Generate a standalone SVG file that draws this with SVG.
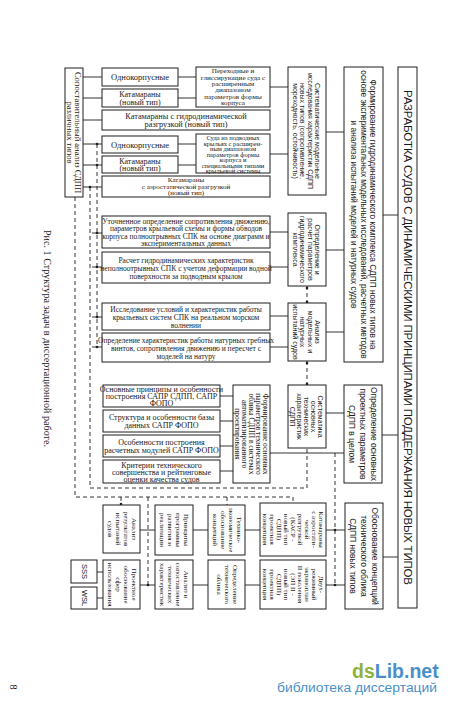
<svg xmlns="http://www.w3.org/2000/svg" width="450" height="708" viewBox="0 0 450 708">
<style>
.b{fill:#fff;stroke:#1e1e1e;stroke-width:1}
.c{stroke:#1e1e1e;stroke-width:0.9;fill:none}
.d{stroke:#1e1e1e;stroke-width:0.9;fill:none;stroke-dasharray:4 3}
.s{font-family:"Liberation Serif",serif;fill:#1a1a1a;text-anchor:middle;dominant-baseline:central}
.a{font-family:"Liberation Sans",sans-serif;fill:#1a1a1a;text-anchor:middle;dominant-baseline:central}
.dot{fill:#1e1e1e}
</style>
<rect width="450" height="708" fill="#fff"/>

<g id="connectors">
<path class="c" d="M383,215H398M382,435H398M383,557H398M326,132H344M326,250H344M326,332H344M326,413H344M270,453H344M326,530H345M326,585H345M245,530H260M245,585H260M193,530H208M193,585H208M140,530H155M140,585H155M97,572H103M97,598H103M220,396H233M220,421H233M220,446H233M220,471H233M270,232H288M270,267H288M270,316H288M270,347H288M83,77H102M83,98H102M83,120H102M83,144H102M83,165H102M83,187H102M178,77H196M178,98H196M178,144H196M178,165H196M270,87H288M270,154H288M92,233H102M92,267H102M92,317H102M92,347H102"/>
<path class="d" d="M75,197V497H293V503M90,187V488H307V448M97,144V347M307,286V303M307,361V385M335,453V585M121,497V505M227,497V505M148,497V585"/>
<g class="dot">
<circle cx="97" cy="144" r="1.3"/><circle cx="97" cy="165" r="1.3"/><circle cx="90" cy="187" r="1.3"/>
<circle cx="97" cy="233" r="1.3"/><circle cx="97" cy="267" r="1.3"/><circle cx="97" cy="317" r="1.3"/><circle cx="97" cy="347" r="1.3"/>
<circle cx="307" cy="288" r="1.3"/><circle cx="307" cy="302" r="1.3"/><circle cx="307" cy="363" r="1.3"/><circle cx="307" cy="384" r="1.3"/>
<circle cx="335" cy="530" r="1.3"/><circle cx="335" cy="585" r="1.3"/><circle cx="148" cy="585" r="1.3"/><circle cx="121" cy="504" r="1.3"/>
</g>
</g>

<g id="title"><rect class="b" x="398" y="67" width="19" height="541"/>
<text class="a" font-size="11.5" transform="translate(407.5,337.5) rotate(90)" textLength="495" lengthAdjust="spacing">РАЗРАБОТКА СУДОВ С ДИНАМИЧЕСКИМИ ПРИНЦИПАМИ ПОДДЕРЖАНИЯ НОВЫХ ТИПОВ</text></g>

<g id="n-form-gidro"><rect class="b" x="344" y="67" width="39" height="295"/>
<text class="a" font-size="8.3" transform="translate(373,214.5) rotate(90)"><tspan x="0" y="0">Формирование гидродинамического комплекса СДПП новых типов на</tspan><tspan x="0" y="9.5">основе экспериментальных модельных исследований, расчетных методов</tspan><tspan x="0" y="19">и анализа испытаний моделей и натурных судов</tspan></text></g>

<g id="n-opred-osn"><rect class="b" x="344" y="385" width="38" height="98"/>
<text class="a" font-size="8.5" transform="translate(374,434) rotate(90)"><tspan x="0" y="0">Определение основных</tspan><tspan x="0" y="11">проектных параметров</tspan><tspan x="0" y="22">СДПП в целом</tspan></text></g>

<g id="n-obosn"><rect class="b" x="345" y="503" width="38" height="106"/>
<text class="a" font-size="8.5" transform="translate(375,556) rotate(90)"><tspan x="0" y="0">Обоснование концепций</tspan><tspan x="0" y="11">технического облика</tspan><tspan x="0" y="22">СДПП новых типов</tspan></text></g>

<g id="n-sistem-model"><rect class="b" x="288" y="67" width="38" height="128"/>
<text class="a" font-size="7" transform="translate(318.3,131) rotate(90)"><tspan x="0" y="0">Систематические модельные</tspan><tspan x="0" y="7.5">исследования характеристик СДПП</tspan><tspan x="0" y="15">новых типов (сопротивление,</tspan><tspan x="0" y="22.5">мореходность, остойчивость)</tspan></text></g>

<g id="n-opred-rasch"><rect class="b" x="288" y="213" width="38" height="73"/>
<text class="a" font-size="7" transform="translate(318.3,249.5) rotate(90)"><tspan x="0" y="0">Определение и</tspan><tspan x="0" y="7.5">расчет параметров</tspan><tspan x="0" y="15">гидродинамического</tspan><tspan x="0" y="22.5">комплекса</tspan></text></g>

<g id="n-analiz-model"><rect class="b" x="288" y="303" width="38" height="58"/>
<text class="a" font-size="7" transform="translate(318.3,332) rotate(90)"><tspan x="0" y="0">Анализ</tspan><tspan x="0" y="7.5">модельных и</tspan><tspan x="0" y="15">натурных</tspan><tspan x="0" y="22.5">испытаний судов</tspan></text></g>

<g id="n-sistematika"><rect class="b" x="288" y="385" width="38" height="63"/>
<text class="a" font-size="7" transform="translate(321,416.5) rotate(90)"><tspan x="0" y="0">Систематика</tspan><tspan x="0" y="7">основных</tspan><tspan x="0" y="14">технических</tspan><tspan x="0" y="21">характеристик</tspan><tspan x="0" y="28">СДПП</tspan></text></g>

<g id="n-sopost"><rect class="b" x="65" y="68" width="18" height="129"/>
<text class="s" font-size="8.5" transform="translate(78,132.5) rotate(90)"><tspan x="0" y="0">Сопоставительный анализ СДПП</tspan><tspan x="0" y="8">различных типов</tspan></text></g>

<g id="n-a1"><rect class="b" x="102" y="68" width="76" height="18"/><text class="s" font-size="8.5" x="140" y="77">Однокорпусные</text></g>
<g id="n-a2"><rect class="b" x="102" y="89" width="76" height="18"/><text class="s" font-size="8" x="140" y="94.3"><tspan x="140">Катамараны</tspan><tspan x="140" dy="7.5">(новый тип)</tspan></text></g>
<g id="n-a3"><rect class="b" x="102" y="110" width="168" height="20"/><text class="s" font-size="8.3" x="186" y="116"><tspan x="186">Катамараны с гидродинамической</tspan><tspan x="186" dy="8">разгрузкой (новый тип)</tspan></text></g>
<g id="n-a4"><rect class="b" x="102" y="136" width="76" height="17"/><text class="s" font-size="8.5" x="140" y="144.5">Однокорпусные</text></g>
<g id="n-a5"><rect class="b" x="102" y="156" width="76" height="17"/><text class="s" font-size="8" x="140" y="160.8"><tspan x="140">Катамараны</tspan><tspan x="140" dy="7.5">(новый тип)</tspan></text></g>
<g id="n-a6"><rect class="b" x="102" y="176" width="168" height="21"/><text class="s" font-size="7" x="186" y="180"><tspan x="186">Катамараны</tspan><tspan x="186" dy="6.5">с аэростатической разгрузкой</tspan><tspan x="186" dy="6.5">(новый тип)</tspan></text></g>
<g id="n-a7"><rect class="b" x="196" y="67" width="74" height="40"/><text class="s" font-size="7.1" x="233" y="71.3"><tspan x="233">Переходные и</tspan><tspan x="233" dy="6.3">глиссирующие суда с</tspan><tspan x="233" dy="6.3">расширенным</tspan><tspan x="233" dy="6.3">диапазоном</tspan><tspan x="233" dy="6.3">параметров формы</tspan><tspan x="233" dy="6.3">корпуса</tspan></text></g>
<g id="n-a8"><rect class="b" x="196" y="134" width="74" height="39"/><text class="s" font-size="6.5" x="233" y="137"><tspan x="233">Суда на подводных</tspan><tspan x="233" dy="5.5">крыльях с расширен-</tspan><tspan x="233" dy="5.5">ным диапазоном</tspan><tspan x="233" dy="5.5">параметров формы</tspan><tspan x="233" dy="5.5">корпуса и</tspan><tspan x="233" dy="5.5">специальными типами</tspan><tspan x="233" dy="5.5">крыльевой системы</tspan></text></g>

<g id="n-b1"><rect class="b" x="102" y="216" width="168" height="32"/><text class="s" font-size="7.5" x="186" y="220.8"><tspan x="186">Уточненное определение сопротивления движению,</tspan><tspan x="186" dy="7.5">параметров крыльевой схемы и формы обводов</tspan><tspan x="186" dy="7.5">корпуса полноотрывных СПК на основе диаграмм и</tspan><tspan x="186" dy="7.5">экспериментальных данных</tspan></text></g>
<g id="n-b2"><rect class="b" x="102" y="252" width="168" height="31"/><text class="s" font-size="7.5" x="186" y="259.5"><tspan x="186">Расчет гидродинамических характеристик</tspan><tspan x="186" dy="8">неполноотрывных СПК с учетом деформации водной</tspan><tspan x="186" dy="8">поверхности за подводным крылом</tspan></text></g>
<g id="n-b3"><rect class="b" x="102" y="303" width="168" height="27"/><text class="s" font-size="7.5" x="186" y="308.5"><tspan x="186">Исследование условий и характеристик работы</tspan><tspan x="186" dy="8">крыльевых систем  СПК на реальном морском</tspan><tspan x="186" dy="8">волнении</tspan></text></g>
<g id="n-b4"><rect class="b" x="102" y="333" width="168" height="29"/><text class="s" font-size="7.5" x="186" y="339.5"><tspan x="186">Определение характеристик работы натурных гребных</tspan><tspan x="186" dy="8">винтов, сопротивления движению и пересчет с</tspan><tspan x="186" dy="8">моделей на натуру</tspan></text></g>

<g id="n-c1"><rect class="b" x="103" y="385" width="117" height="22"/><text class="s" font-size="8" x="161.5" y="389"><tspan x="161.5">Основные принципы и особенности</tspan><tspan x="161.5" dy="7">построения САПР СДПП, САПР</tspan><tspan x="161.5" dy="7">ФОПО</tspan></text></g>
<g id="n-c2"><rect class="b" x="103" y="410" width="117" height="22"/><text class="s" font-size="8" x="161.5" y="417"><tspan x="161.5">Структура и особенности базы</tspan><tspan x="161.5" dy="8">данных САПР ФОПО</tspan></text></g>
<g id="n-c3"><rect class="b" x="103" y="435" width="117" height="22"/><text class="s" font-size="8" x="161.5" y="442"><tspan x="161.5">Особенности построения</tspan><tspan x="161.5" dy="8">расчетных модулей САПР ФОПО</tspan></text></g>
<g id="n-c4"><rect class="b" x="103" y="460" width="117" height="23"/><text class="s" font-size="8" x="161.5" y="464.5"><tspan x="161.5">Критерии технического</tspan><tspan x="161.5" dy="7">совершенства и рейтинговые</tspan><tspan x="161.5" dy="7">оценки качества судов</tspan></text></g>

<g id="n-form-osn"><rect class="b" x="233" y="385" width="37" height="98"/>
<text class="s" font-size="7.5" transform="translate(265.5,434) rotate(90)"><tspan x="0" y="0">Формирование основных</tspan><tspan x="0" y="7">параметров технического</tspan><tspan x="0" y="14">облика СДПП в системах</tspan><tspan x="0" y="21">автоматизированного</tspan><tspan x="0" y="28">проектирования</tspan></text></g>

<g id="n-r1"><rect class="b" x="260" y="503" width="66" height="53"/>
<text class="s" font-size="7" transform="translate(321,529.5) rotate(90)"><tspan x="0" y="0">Катамараны</tspan><tspan x="0" y="7">с аэростати-</tspan><tspan x="0" y="14">ческой</tspan><tspan x="0" y="21">разгрузкой</tspan><tspan x="0" y="28">(КАСР -</tspan><tspan x="0" y="35">новый тип</tspan><tspan x="0" y="42">СДПП)</tspan><tspan x="0" y="49">проектная</tspan><tspan x="0" y="56">концепция</tspan></text></g>
<g id="n-r2"><rect class="b" x="260" y="560" width="66" height="49"/>
<text class="s" font-size="7" transform="translate(321,584.5) rotate(90)"><tspan x="0" y="0">Двух-</tspan><tspan x="0" y="7">режимный</tspan><tspan x="0" y="14">экраноплан</tspan><tspan x="0" y="21">II поколения</tspan><tspan x="0" y="28">(ЭП II -</tspan><tspan x="0" y="35">новый тип</tspan><tspan x="0" y="42">СДПП)</tspan><tspan x="0" y="49">проектная</tspan><tspan x="0" y="56">концепция</tspan></text></g>
<g id="n-n1"><rect class="b" x="208" y="505" width="37" height="50"/>
<text class="s" font-size="7" transform="translate(238.5,530) rotate(90)"><tspan x="0" y="0">Технико-</tspan><tspan x="0" y="8">экономическое</tspan><tspan x="0" y="16">обоснование</tspan><tspan x="0" y="24">концепций</tspan></text></g>
<g id="n-n2"><rect class="b" x="208" y="560" width="37" height="49"/>
<text class="s" font-size="7" transform="translate(234.5,584.5) rotate(90)"><tspan x="0" y="0">Определение</tspan><tspan x="0" y="8">технического</tspan><tspan x="0" y="16">облика</tspan></text></g>
<g id="n-m1"><rect class="b" x="155" y="505" width="38" height="50"/>
<text class="s" font-size="7" transform="translate(186,530) rotate(90)"><tspan x="0" y="0">Принципы</tspan><tspan x="0" y="8">программы</tspan><tspan x="0" y="16">развития и</tspan><tspan x="0" y="24">реализации</tspan></text></g>
<g id="n-m2"><rect class="b" x="155" y="560" width="38" height="49"/>
<text class="s" font-size="7" transform="translate(186,584.5) rotate(90)"><tspan x="0" y="0">Анализ и</tspan><tspan x="0" y="8">сопоставление</tspan><tspan x="0" y="16">технических</tspan><tspan x="0" y="24">характеристик</tspan></text></g>
<g id="n-l1"><rect class="b" x="103" y="505" width="37" height="48"/>
<text class="s" font-size="7" transform="translate(133.5,529) rotate(90)"><tspan x="0" y="0">Анализ</tspan><tspan x="0" y="8">результатов</tspan><tspan x="0" y="16">испытаний</tspan><tspan x="0" y="24">судов</tspan></text></g>
<g id="n-l2"><rect class="b" x="103" y="560" width="37" height="49"/>
<text class="s" font-size="7" transform="translate(133.5,584.5) rotate(90)"><tspan x="0" y="0">Проектное</tspan><tspan x="0" y="8">обоснование</tspan><tspan x="0" y="16">сфер</tspan><tspan x="0" y="24">использования</tspan></text></g>
<g id="n-sss"><rect class="b" x="71" y="560" width="26" height="23"/><text class="a" font-size="7.5" transform="translate(84,571.5) rotate(90)">SSS</text></g>
<g id="n-wsl"><rect class="b" x="71" y="587" width="26" height="22"/><text class="a" font-size="7.5" transform="translate(84,598) rotate(90)">WSL</text></g>

<g id="caption">
<text class="s" font-size="10.5" transform="translate(47,338.5) rotate(90)" textLength="217" lengthAdjust="spacingAndGlyphs">Рис. 1 Структура задач в диссертационной работе.</text>
<text class="s" font-size="10" transform="translate(13,687) rotate(90)">8</text>
</g>

<g id="watermark" font-family="'Liberation Sans',sans-serif">
<text x="352" y="678" font-size="19.5" font-weight="bold"><tspan fill="#8db23e">ds</tspan><tspan fill="#4a8fc9">Lib.net</tspan></text>
<text x="437" y="692" font-size="12.5" fill="#4a8fc9" text-anchor="end" textLength="160" lengthAdjust="spacingAndGlyphs">библиотека диссертаций</text>
</g>
</svg>
